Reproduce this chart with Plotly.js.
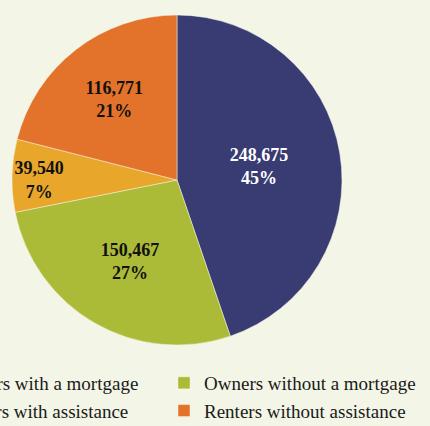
<!DOCTYPE html>
<html>
<head>
<meta charset="utf-8">
<script src="https://cdn.plot.ly/plotly-3.0.1.min.js"></script>
<style>
html, body { margin: 0; padding: 0; overflow: hidden; background: #f3f6e6; }
#chart { width: 530px; height: 426px; margin-left: -100px; }
</style>
</head>
<body>
<div id="chart"></div>
<script>
const categories = ["Owners with a mortgage", "Owners without a mortgage", "Renters with assistance", "Renters without assistance"];
const values = [248675, 150467, 39540, 116771];
const colors = ["#393b73", "#abba37", "#e8a62a", "#e3722b"];
const textColors = ["#ffffff", "#111111", "#111111", "#111111"];

const SHIFT = 100;
const W = 430 + SHIFT, H = 426;
const FONT = "'Liberation Serif', 'Times New Roman', serif";

const trace = {
  type: "pie",
  labels: categories,
  values: values,
  sort: false,
  direction: "clockwise",
  rotation: 0,
  marker: { colors: colors, line: { color: "#f3f6e6", width: 0.5 } },
  texttemplate: "<b>%{value:,}</b><br><b>%{percent:.0%}</b>",
  textposition: "inside",
  insidetextorientation: "horizontal",
  textfont: { family: FONT, size: 18, color: textColors },
  hoverinfo: "label+value+percent",
  domain: { x: [(12 + SHIFT) / W, (342 + SHIFT) / W], y: [1 - 346 / H, 1 - 14 / H] }
};

const layout = {
  width: W,
  height: H,
  margin: { l: 0, r: 0, t: 0, b: 0, autoexpand: false },
  paper_bgcolor: "#f3f6e6",
  plot_bgcolor: "#f3f6e6",
  font: { family: FONT },
  showlegend: true,
  legend: {
    orientation: "h",
    x: (SHIFT - 89) / W,
    xanchor: "left",
    y: 1 - 364 / H,
    yanchor: "top",
    entrywidth: 208,
    bgcolor: "rgba(0,0,0,0)",
    font: { family: FONT, size: 19, color: "#1a1a1a" },
    traceorder: "normal"
  }
};

Plotly.newPlot("chart", [trace], layout, { displayModeBar: false, staticPlot: true });
</script>
</body>
</html>
